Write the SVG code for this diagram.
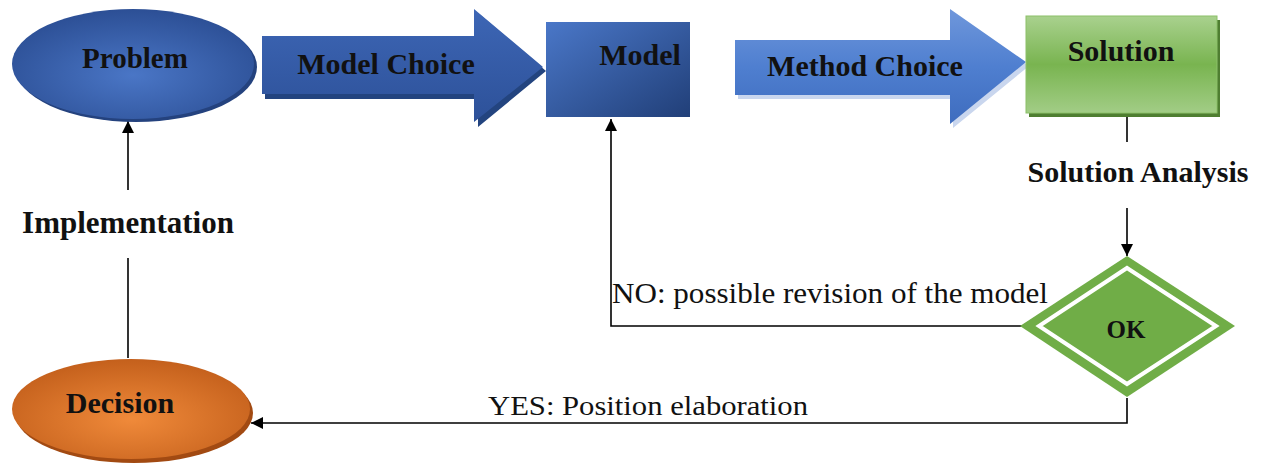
<svg xmlns="http://www.w3.org/2000/svg" width="1269" height="469" viewBox="0 0 1269 469">
  <defs>
    <style>
      text { font-family: 'Liberation Serif', 'Times New Roman', Times, serif; fill: #111; }
      .lbl { font-weight: bold; }
      .reg { font-weight: normal; }
      .wire { fill: none; stroke: #000; stroke-width: 1.6; }
    </style>
    <radialGradient id="blueOval" cx="50%" cy="60%" r="60%">
      <stop offset="0" stop-color="#4a76c6"/>
      <stop offset="1" stop-color="#2c4f95"/>
    </radialGradient>
    <radialGradient id="orangeOval" cx="50%" cy="60%" r="60%">
      <stop offset="0" stop-color="#f08a3a"/>
      <stop offset="1" stop-color="#c4601c"/>
    </radialGradient>
    <linearGradient id="modelFill" x1="0" y1="0" x2="1" y2="1">
      <stop offset="0" stop-color="#4a77c8"/>
      <stop offset="1" stop-color="#213f78"/>
    </linearGradient>
    <linearGradient id="arrowDark" x1="0" y1="0" x2="0" y2="1">
      <stop offset="0" stop-color="#3d66b5"/>
      <stop offset="1" stop-color="#2d5199"/>
    </linearGradient>
    <linearGradient id="arrowLight" x1="0" y1="0" x2="0" y2="1">
      <stop offset="0" stop-color="#6f97db"/>
      <stop offset="0.5" stop-color="#4f7fd0"/>
      <stop offset="1" stop-color="#3e6cbe"/>
    </linearGradient>
    <linearGradient id="greenFill" x1="0" y1="0" x2="0" y2="1">
      <stop offset="0" stop-color="#a9d18e"/>
      <stop offset="0.5" stop-color="#79b450"/>
      <stop offset="1" stop-color="#a2cd86"/>
    </linearGradient>
    <marker id="tip" viewBox="0 0 10 10" refX="10" refY="5" markerWidth="15" markerHeight="12" markerUnits="userSpaceOnUse" orient="auto">
      <path d="M0,0 L10,5 L0,10 Z" fill="#000"/>
    </marker>
  </defs>

  <!-- connectors and their labels -->
  <g id="connectors">
    <line class="wire" x1="128" y1="190" x2="128" y2="121" marker-end="url(#tip)"/>
    <line class="wire" x1="128" y1="358" x2="128" y2="258"/>
    <line class="wire" x1="1127" y1="117" x2="1127" y2="142"/>
    <line class="wire" x1="1127" y1="208" x2="1127" y2="256" marker-end="url(#tip)"/>
    <polyline class="wire" points="1022,326 611,326 611,119" marker-end="url(#tip)"/>
    <polyline class="wire" points="1127,398 1127,423 251,423" marker-end="url(#tip)"/>
    <text class="lbl" x="128" y="233" font-size="31" text-anchor="middle">Implementation</text>
    <text class="lbl" x="1138" y="182" font-size="30" text-anchor="middle">Solution Analysis</text>
    <text class="reg" x="612" y="303" font-size="30" textLength="436" lengthAdjust="spacingAndGlyphs">NO: possible revision of the model</text>
    <text class="reg" x="648" y="415" font-size="28" textLength="320" lengthAdjust="spacingAndGlyphs" text-anchor="middle">YES: Position elaboration</text>
  </g>

  <!-- Problem -->
  <g id="problem">
    <ellipse cx="136" cy="67" rx="121" ry="55" fill="#24427e"/>
    <ellipse cx="133" cy="64" rx="121" ry="55" fill="url(#blueOval)"/>
    <text class="lbl" x="135" y="68" font-size="29" text-anchor="middle">Problem</text>
  </g>

  <!-- Model Choice arrow -->
  <g id="model-choice">
    <path d="M265,40 L478,40 L478,13 L546,71 L478,127 L478,99 L265,99 Z" fill="#23447f"/>
    <path d="M262,36 L474,36 L474,9 L543,67 L474,122 L474,94 L262,94 Z" fill="url(#arrowDark)"/>
    <text class="lbl" x="386" y="74" font-size="30" text-anchor="middle">Model Choice</text>
  </g>

  <!-- Model -->
  <g id="model">
    <rect x="546" y="22" width="144" height="95" fill="url(#modelFill)"/>
    <text class="lbl" x="640" y="65" font-size="30" text-anchor="middle">Model</text>
  </g>

  <!-- Method Choice arrow -->
  <g id="method-choice">
    <path d="M738,44 L953,44 L953,13 L1029,66 L953,128 L953,99 L738,99 Z" fill="#c9d6ee"/>
    <path d="M735,40 L950,40 L950,9 L1026,62 L950,124 L950,95 L735,95 Z" fill="url(#arrowLight)"/>
    <text class="lbl" x="865" y="76" font-size="30" text-anchor="middle">Method Choice</text>
  </g>

  <!-- Solution -->
  <g id="solution">
    <rect x="1029" y="20" width="191" height="97" fill="#4f7e31"/>
    <rect x="1026" y="16" width="191" height="97" fill="url(#greenFill)" stroke="#8cc068" stroke-width="1"/>
    <text class="lbl" x="1121" y="61" font-size="30" text-anchor="middle">Solution</text>
  </g>

  <!-- OK decision diamond -->
  <g id="ok">
    <polygon points="1127,256 1235,326 1127,397 1020,326" fill="#70ad47"/>
    <polygon points="1127,268 1216,326 1127,384 1039,326" fill="none" stroke="#fff" stroke-width="4"/>
    <text class="lbl" x="1126" y="338" font-size="25" text-anchor="middle">OK</text>
  </g>

  <!-- Decision -->
  <g id="decision">
    <ellipse cx="134" cy="413" rx="119" ry="50" fill="#a24a12"/>
    <ellipse cx="131" cy="409" rx="119" ry="50" fill="url(#orangeOval)"/>
    <text class="lbl" x="120" y="413" font-size="30" text-anchor="middle">Decision</text>
  </g>
</svg>
